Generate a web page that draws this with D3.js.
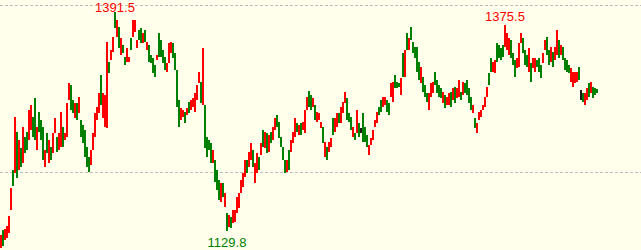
<!DOCTYPE html>
<html>
<head>
<meta charset="utf-8">
<script src="https://cdn.jsdelivr.net/npm/d3@7"></script>
<style>
  html, body { margin: 0; padding: 0; background: #ffffec; }
  svg { display: block; }
</style>
</head>
<body>
<div class="main"></div>
<script>
//// data: one entry per session, high / low / trend (1 up, -1 down, 0 flat)
const highs = [
  1124.0, 1130.0, 1131.2, 1134.8, 1146.8, 1180.4, 1202.0, 1265.6, 1247.6, 1238.0,
  1228.4, 1253.6, 1241.6, 1247.6, 1274.0, 1280.0, 1265.6, 1288.4, 1253.6, 1271.6,
  1262.0, 1253.6, 1226.0, 1246.4, 1238.0, 1229.6, 1246.4, 1264.4, 1241.6, 1246.4,
  1271.6, 1253.6, 1246.4, 1282.4, 1306.4, 1304.0, 1286.0, 1282.4, 1282.4, 1289.6,
  1262.0, 1256.0, 1250.0, 1229.6, 1217.6, 1226.0, 1246.4, 1270.4, 1277.6, 1294.4,
  1316.0, 1294.4, 1292.0, 1355.6, 1331.6, 1346.0, 1361.6, 1391.5, 1382.0, 1373.6,
  1360.4, 1352.0, 1337.6, 1348.4, 1337.6, 1360.4, 1382.0, 1382.0, 1358.0, 1370.0,
  1372.4, 1366.4, 1370.0, 1355.6, 1352.0, 1340.0, 1336.4, 1328.0, 1340.0, 1366.4,
  1358.0, 1346.0, 1337.6, 1330.4, 1354.4, 1355.6, 1354.4, 1342.4, 1322.0, 1286.0,
  1276.4, 1274.0, 1271.6, 1276.4, 1283.6, 1286.0, 1288.4, 1294.4, 1304.0, 1319.6,
  1307.6, 1348.4, 1280.0, 1241.6, 1238.0, 1234.4, 1226.0, 1214.0, 1202.0, 1190.0,
  1186.4, 1186.4, 1174.4, 1150.4, 1148.0, 1145.6, 1154.0, 1154.0, 1169.6, 1174.4,
  1190.0, 1198.4, 1214.0, 1214.0, 1223.6, 1234.4, 1226.0, 1210.4, 1222.4, 1217.6,
  1234.4, 1250.0, 1247.6, 1246.4, 1244.0, 1247.6, 1253.6, 1264.4, 1268.0, 1259.6,
  1241.6, 1229.6, 1214.0, 1214.0, 1226.0, 1238.0, 1247.6, 1264.4, 1258.4, 1256.0,
  1258.4, 1259.6, 1274.0, 1289.6, 1296.8, 1292.0, 1288.4, 1280.0, 1271.6, 1270.4,
  1259.6, 1253.6, 1235.6, 1229.6, 1235.6, 1240.4, 1264.4, 1264.4, 1270.4, 1270.4,
  1277.6, 1283.6, 1295.6, 1288.4, 1270.4, 1265.6, 1253.6, 1246.4, 1274.0, 1258.4,
  1252.4, 1270.4, 1253.6, 1244.0, 1232.0, 1240.4, 1250.0, 1262.0, 1271.6, 1277.6,
  1286.0, 1289.6, 1289.6, 1286.0, 1282.4, 1306.4, 1307.6, 1316.0, 1307.6, 1306.4,
  1312.4, 1342.4, 1346.0, 1366.4, 1360.4, 1373.6, 1355.6, 1349.6, 1349.6, 1331.6,
  1325.6, 1313.6, 1304.0, 1294.4, 1294.4, 1306.4, 1307.6, 1319.6, 1310.0, 1304.0,
  1300.4, 1295.6, 1292.0, 1289.6, 1294.4, 1295.6, 1300.4, 1301.6, 1300.4, 1310.0,
  1295.6, 1307.6, 1306.4, 1310.0, 1300.4, 1289.6, 1280.0, 1264.4, 1258.4, 1271.6,
  1274.0, 1280.0, 1289.6, 1301.6, 1318.4, 1336.4, 1331.6, 1334.0, 1354.4, 1352.0,
  1348.4, 1352.0, 1375.5, 1366.4, 1360.4, 1358.0, 1342.4, 1334.0, 1336.4, 1354.4,
  1366.4, 1360.4, 1346.0, 1340.0, 1348.4, 1330.4, 1336.4, 1336.4, 1334.0, 1336.4,
  1328.0, 1342.4, 1358.0, 1361.6, 1346.0, 1349.6, 1343.6, 1349.6, 1370.0, 1358.0,
  1352.0, 1349.6, 1336.4, 1334.0, 1328.0, 1324.4, 1319.6, 1319.6, 1319.6, 1325.6,
  1298.0, 1294.4, 1294.4, 1300.4, 1306.4, 1307.6, 1301.6, 1300.4, 1299.2
];
const lows = [
  1108.4, 1110.8, 1118.0, 1120.4, 1126.4, 1154.0, 1182.8, 1198.4, 1192.4, 1202.0,
  1205.6, 1210.4, 1222.4, 1226.0, 1238.0, 1250.0, 1241.6, 1238.0, 1226.0, 1247.6,
  1238.0, 1214.0, 1205.6, 1222.4, 1210.4, 1214.0, 1222.4, 1246.4, 1223.6, 1226.0,
  1229.6, 1229.6, 1238.0, 1241.6, 1286.0, 1274.0, 1270.4, 1264.4, 1262.0, 1270.4,
  1241.6, 1234.4, 1217.6, 1205.6, 1199.6, 1208.0, 1226.0, 1241.6, 1262.0, 1270.4,
  1280.0, 1264.4, 1253.6, 1252.4, 1318.4, 1334.0, 1343.6, 1372.4, 1361.6, 1348.4,
  1340.0, 1342.4, 1328.0, 1331.6, 1331.6, 1346.0, 1361.6, 1367.6, 1348.4, 1358.0,
  1354.4, 1354.4, 1355.6, 1346.0, 1331.6, 1330.4, 1318.4, 1313.6, 1334.0, 1337.6,
  1337.6, 1330.4, 1322.0, 1319.6, 1330.4, 1342.4, 1336.4, 1322.0, 1277.6, 1253.6,
  1262.0, 1265.6, 1258.4, 1268.0, 1270.4, 1274.0, 1277.6, 1271.6, 1286.0, 1306.4,
  1282.4, 1280.0, 1228.4, 1217.6, 1226.0, 1210.4, 1210.4, 1187.6, 1178.0, 1166.0,
  1163.6, 1169.6, 1157.6, 1129.8, 1133.6, 1132.4, 1138.4, 1139.6, 1150.4, 1156.4,
  1174.4, 1181.6, 1193.6, 1198.4, 1205.6, 1214.0, 1205.6, 1186.4, 1198.4, 1202.0,
  1220.0, 1229.6, 1228.4, 1222.4, 1223.6, 1234.4, 1238.0, 1250.0, 1253.6, 1240.4,
  1229.6, 1214.0, 1198.4, 1199.6, 1202.0, 1223.6, 1234.4, 1241.6, 1247.6, 1244.0,
  1244.0, 1250.0, 1246.4, 1274.0, 1277.6, 1274.0, 1277.6, 1262.0, 1259.6, 1262.0,
  1252.4, 1234.4, 1217.6, 1214.0, 1223.6, 1229.6, 1244.0, 1247.6, 1253.6, 1258.4,
  1258.4, 1270.4, 1282.4, 1262.0, 1259.6, 1250.0, 1241.6, 1238.0, 1246.4, 1241.6,
  1246.4, 1235.6, 1235.6, 1229.6, 1220.0, 1232.0, 1238.0, 1253.6, 1258.4, 1268.0,
  1271.6, 1277.6, 1280.0, 1271.6, 1268.0, 1289.6, 1283.6, 1300.4, 1300.4, 1301.6,
  1292.0, 1313.6, 1313.6, 1346.0, 1346.0, 1358.0, 1342.4, 1336.4, 1319.6, 1310.0,
  1306.4, 1295.6, 1289.6, 1283.6, 1274.0, 1289.6, 1294.4, 1304.0, 1294.4, 1289.6,
  1288.4, 1282.4, 1276.4, 1280.0, 1280.0, 1277.6, 1286.0, 1282.4, 1288.4, 1289.6,
  1286.0, 1292.0, 1294.4, 1292.0, 1282.4, 1274.0, 1270.4, 1252.4, 1246.4, 1262.0,
  1265.6, 1274.0, 1277.6, 1289.6, 1304.0, 1319.6, 1319.6, 1318.4, 1331.6, 1336.4,
  1334.0, 1337.6, 1349.6, 1346.0, 1340.0, 1336.4, 1328.0, 1313.6, 1324.4, 1325.6,
  1354.4, 1342.4, 1328.0, 1325.6, 1319.6, 1307.6, 1324.4, 1319.6, 1325.6, 1319.6,
  1312.4, 1330.4, 1346.0, 1340.0, 1328.0, 1331.6, 1325.6, 1334.0, 1340.0, 1336.4,
  1340.0, 1334.0, 1322.0, 1319.6, 1318.4, 1307.6, 1301.6, 1306.4, 1307.6, 1310.0,
  1286.0, 1283.6, 1280.0, 1286.0, 1289.6, 1294.4, 1288.4, 1292.0, 1294.4
];
const trend = [
   1,-1, 1, 1, 1, 1,-1, 1,-1, 1,-1, 1,-1,-1, 1, 1,-1,-1, 1,-1,
  -1,-1, 1,-1, 1,-1, 1, 1,-1, 1, 1,-1, 1, 1, 1,-1,-1, 1,-1, 1,
  -1,-1,-1,-1,-1, 1, 1, 1, 1, 1,-1, 1, 1, 1,-1, 1, 1,-1, 1,-1,
   1,-1,-1, 1, 1,-1, 1, 1, 1,-1,-1, 1,-1, 1,-1,-1,-1,-1, 1,-1,
  -1,-1,-1, 1, 1, 1,-1,-1,-1,-1, 1, 1,-1, 1,-1, 1, 1, 1, 1, 1,
  -1, 1,-1,-1,-1,-1, 1,-1,-1,-1, 1,-1, 1,-1, 1,-1, 1, 1, 1, 1,
   1, 1, 1,-1, 1, 1,-1, 1, 1,-1, 1,-1, 1,-1, 1,-1, 1, 1,-1,-1,
  -1,-1,-1, 1,-1, 1, 1, 1,-1, 1,-1, 1, 1, 1,-1,-1, 1,-1, 1, 1,
   1,-1, 1,-1, 1, 1,-1, 1, 1,-1, 1, 1, 1,-1,-1,-1, 1,-1, 1,-1,
   0,-1,-1,-1, 1, 1, 1, 1, 1,-1,-1, 1, 1,-1,-1, 1, 1,-1,-1,-1,
   1,-1, 1,-1, 1,-1,-1,-1,-1,-1, 1,-1,-1,-1, 1, 1, 1,-1,-1,-1,
  -1, 1,-1, 1, 1,-1, 1,-1, 1, 1,-1, 1,-1,-1,-1,-1, 1,-1, 1, 1,
   1, 1, 1, 1,-1,-1, 1, 1,-1,-1,-1,-1, 1, 1, 1,-1,-1,-1, 1, 1,
   1,-1,-1,-1, 1,-1, 1, 1,-1,-1,-1, 1, 1,-1,-1, 1,-1, 1, 1,-1,
   1,-1,-1,-1,-1, 1, 1, 1, 1,-1, 0,-1, 1, 1,-1, 1,-1,-1,-1
];
// marked extremes: [index, which value]
const marks = [
  { i: 57, key: 'high' },
  { i: 113, key: 'low' },
  { i: 252, key: 'high' }
];
const gridValues = [1400, 1200];

const width = 641;
const height = 250;
const colors = { up: '#ff0000', down: '#008000', flat: '#1a1a1a' };

const svg = d3.select('.main').append('svg')
  .attr('width', width)
  .attr('height', height)
  .style('background', '#ffffec');

const x = d3.scaleBand()
  .domain(d3.range(highs.length))
  .range([0, highs.length * 2])
  .padding(0);

const y = d3.scaleLinear()
  .domain([1200, 1400])
  .range([172, 5]);

svg.append('g')
  .selectAll('line')
  .data(gridValues)
  .enter()
  .append('line')
  .attr('x1', 0)
  .attr('x2', width)
  .attr('y1', d => Math.round(y(d)) + 0.5)
  .attr('y2', d => Math.round(y(d)) + 0.5)
  .attr('stroke', '#bdbdbd')
  .attr('stroke-dasharray', '3,2');

svg.append('g')
  .attr('shape-rendering', 'crispEdges')
  .selectAll('rect')
  .data(highs)
  .enter()
  .append('rect')
  .attr('x', (_, i) => x(i))
  .attr('y', d => y(d))
  .attr('width', x.bandwidth())
  .attr('height', (d, i) => Math.max(1, y(lows[i]) - y(d)))
  .attr('fill', (_, i) => trend[i] > 0 ? colors.up : trend[i] < 0 ? colors.down : colors.flat);

// labels sit just above the high / below the low, kept inside the top edge
svg.append('g')
  .selectAll('text')
  .data(marks)
  .enter()
  .append('text')
  .attr('x', d => x(d.i) + x.bandwidth() / 2)
  .attr('y', d => d.key === 'high' ? Math.max(12, y(highs[d.i]) - 4) : y(lows[d.i]) + 16)
  .attr('text-anchor', 'middle')
  .attr('font-family', '"Liberation Sans", Arial, sans-serif')
  .attr('font-size', 13)
  .attr('fill', d => d.key === 'high' ? colors.up : colors.down)
  .text(d => (d.key === 'high' ? highs[d.i] : lows[d.i]).toFixed(1));
</script>
</body>
</html>
